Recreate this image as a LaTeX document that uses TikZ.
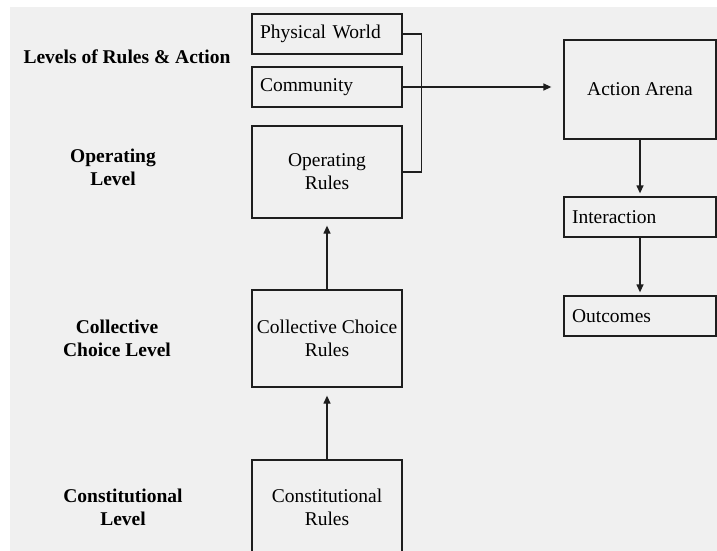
\documentclass[tikz,border=0pt]{standalone}
\usepackage{fontspec}
\setmainfont{Liberation Serif}
\usetikzlibrary{positioning,arrows.meta}
\definecolor{paper}{HTML}{F0F0F0}
\definecolor{ink}{HTML}{1E1E1E}

\begin{document}
\begin{tikzpicture}[x=1pt,y=-1pt,font=\fontsize{19.5}{23}\selectfont,
	rulebox/.style={shape=rectangle,draw=ink,line width=1.3pt,minimum width=150pt,inner sep=0pt,align=center},
	listbox/.style={rulebox,text width=134pt,inner xsep=8pt,minimum height=40pt,align=left},
	level/.style={font=\fontsize{19.5}{23}\selectfont\bfseries,align=center},
	link/.style={draw=ink,line width=1.3pt},
	flow/.style={link,-{Triangle[length=8pt,width=7pt]}}]
	\fill[white] (0,0) rectangle (717,551);
	\fill[paper] (10,7) rectangle (717,551);
	\useasboundingbox (0,0) rectangle (717,551);
	\clip (0,0) rectangle (717,551);

	% level labels
	\node (title) at (127,57) [level] {Levels of Rules \& Action};
	\node (oplevel) at (113,167) [level] {Operating\\Level};
	\node (cclevel) at (117,338) [level] {Collective\\Choice Level};
	\node (conlevel) at (123,507) [level] {Constitutional\\Level};

	% rule boxes
	\node (world) at (327,34) [listbox] {Physical World};
	\node (community) at (327,87) [listbox] {Community};
	\node (oprules) at (327,172) [rulebox,minimum height=92pt] {Operating\\Rules};
	\node (ccrules) at (327,338.5) [rulebox,minimum height=97pt] {Collective Choice\\Rules};
	\node (conrules) at (327,507) [rulebox,minimum height=94pt] {Constitutional\\Rules};

	% action side
	\node (arena) at (640,89.5) [rulebox,minimum width=152pt,minimum height=99pt] {Action Arena};
	\node (interaction) at (640,217) [listbox,text width=136pt] {Interaction};
	\node (outcomes) at (640,316) [listbox,text width=136pt] {Outcomes};

	\draw [link] (world.east) -- ++(19,0) |- (oprules.east);
	\draw [flow, shorten >=12pt] (community.east) -- (community.east -| arena.west);
	\draw [flow, shorten >=7pt] (ccrules.north) -- (oprules.south);
	\draw [flow, shorten >=8pt] (conrules.north) -- (ccrules.south);
	\draw [flow, shorten >=3pt] (arena.south) -- (interaction.north);
	\draw [flow, shorten >=3pt] (interaction.south) -- (outcomes.north);
\end{tikzpicture}
\end{document}
